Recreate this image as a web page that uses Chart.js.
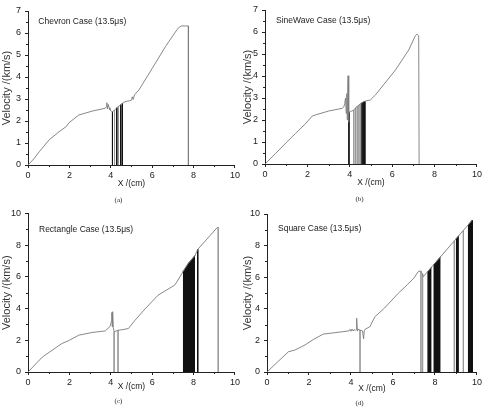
<!DOCTYPE html>
<html><head><meta charset="utf-8">
<script src="https://cdn.jsdelivr.net/npm/chart.js@4/dist/chart.umd.min.js"></script>
<style>
html,body{margin:0;padding:0;background:#fff;}
#wrap{position:relative;width:484px;height:408px;overflow:hidden;}
canvas{position:absolute;}
</style></head><body>
<div id="wrap">
<canvas id="ca" width="242" height="204" style="left:0;top:0"></canvas>
<canvas id="cb" width="242" height="204" style="left:242px;top:0"></canvas>
<canvas id="cc" width="242" height="204" style="left:0;top:204px"></canvas>
<canvas id="cd" width="242" height="204" style="left:242px;top:204px"></canvas>
</div>
<script>
// ---------- tick labels ----------
const xTicks = [0, 2, 4, 6, 8, 10];
const yTicksTop = [0, 1, 2, 3, 4, 5, 6, 7];
const yTicksBottom = [0, 2, 4, 6, 8, 10];
const panelTitles = ['Chevron Case (13.5\u03bcs)', 'SineWave Case (13.5\u03bcs)', 'Rectangle Case (13.5\u03bcs)', 'Square Case (13.5\u03bcs)'];
const captions = ['(a)', '(b)', '(c)', '(d)'];
const xTitle = 'X /(cm)';
const yTitle = 'Velocity /(km/s)';

// ---------- (a) Chevron ----------
const aX = [0, 0.3, 0.54, 1.02, 1.5, 1.85, 1.9, 1.98, 2.45, 3.1,
            3.73, 3.78, 3.81, 3.84, 3.88, 3.92, 3.96, 4.02, 4.08, 4.18,
            4.29, 4.37, 4.48, 4.56, 4.69, 4.9, 5.0, 5.04, 5.08, 5.15,
            5.36, 6.0, 6.64, 7.19, 7.32, 7.43, 7.75, 7.75];
const aY = [0, 0.3, 0.6, 1.14, 1.51, 1.75, 1.82, 1.92, 2.27, 2.45,
            2.58, 2.65, 2.83, 2.55, 2.75, 2.6, 2.5, 2.45, 2.42, 2.5,
            2.6, 2.66, 2.74, 2.8, 2.88, 2.92, 2.95, 3.1, 2.98, 3.2,
            3.41, 4.39, 5.38, 6.14, 6.28, 6.32, 6.32, 0];
const aDarkDropX = [4.08, 4.29, 4.48, 4.56];
const aDarkDropY = [2.42, 2.6, 2.74, 2.8];
const aLightDropX = [4.18, 4.37];
const aLightDropY = [2.5, 2.66];

// ---------- (b) SineWave ----------
const bX = [0, 0.5, 1.0, 1.44, 1.9, 2.23, 2.38, 3.01, 3.64, 3.72,
            3.76, 3.8, 3.83, 3.86, 3.88, 3.9, 3.92, 3.94, 3.96, 4.03,
            4.19, 4.27, 4.35, 4.43, 4.5, 4.58, 4.66, 4.71, 4.74, 4.97,
            5.21, 6.15, 6.78, 7.09, 7.17, 7.25, 7.27];
const bY = [0, 0.48, 0.97, 1.39, 1.82, 2.18, 2.23, 2.41, 2.53, 2.6,
            2.75, 3.0, 2.3, 3.2, 2.0, 3.4, 4.01, 1.9, 2.35, 2.38,
            2.45, 2.55, 2.62, 2.68, 2.74, 2.79, 2.83, 2.85, 2.86, 2.91,
            3.14, 4.27, 5.18, 5.83, 5.9, 5.83, 0];
const bDarkDropX = [3.96, 4.58, 4.66, 4.71];
const bDarkDropY = [2.35, 2.79, 2.83, 2.85];
const bLightDropX = [4.19, 4.27, 4.35, 4.43, 4.5];
const bLightDropY = [2.45, 2.55, 2.62, 2.68, 2.74];

// ---------- (c) Rectangle ----------
const cX = [0, 0.7, 1.63, 2.0, 2.45, 3.09, 3.73, 3.97, 4.03, 4.05,
            4.07, 4.08, 4.095, 4.1, 4.12, 4.16, 4.34, 4.53, 4.85, 5.17,
            5.6, 6.28, 6.76, 7.08, 7.25, 7.48, 7.75, 8.07, 8.2, 9.15, 9.19];
const cY = [0, 0.95, 1.79, 2.0, 2.32, 2.49, 2.59, 2.88, 3.2, 3.75,
            2.85, 3.8, 2.9, 3.6, 2.8, 2.53, 2.63, 2.66, 2.74, 3.26,
            3.9, 4.84, 5.22, 5.47, 5.8, 6.31, 6.85, 7.35, 7.73, 9.12, 9.12];
const cDarkDropX = [8.2];
const cDarkDropY = [7.73];
const cLightDropX = [4.16, 4.35, 9.19];
const cLightDropY = [2.53, 2.63, 9.12];
const cBandX = [[7.48, 7.75, 8.07]];
const cBandY = [[6.31, 6.85, 7.35]];

// ---------- (d) Square ----------
const dX = [0, 0.5, 1.02, 1.33, 1.81, 2.2, 2.68, 3.24, 3.6, 3.9,
            3.95, 4.0, 4.05, 4.1, 4.15, 4.2, 4.25, 4.27, 4.3, 4.32,
            4.43, 4.55, 4.6, 4.63, 4.67, 4.9, 5.14, 5.6, 6.25, 6.7,
            7.0, 7.2, 7.3, 7.33, 7.36, 7.41, 7.44, 7.63, 7.84, 7.92,
            8.27, 8.92, 9.14, 9.35, 9.56, 9.78];
const dY = [0, 0.63, 1.28, 1.39, 1.71, 2.05, 2.4, 2.49, 2.55, 2.6,
            2.7, 2.58, 2.72, 2.6, 2.68, 2.62, 2.7, 3.4, 2.6, 2.72,
            2.65, 2.6, 2.1, 2.6, 2.7, 2.87, 3.5, 4.05, 4.98, 5.55,
            5.95, 6.35, 6.4, 6.35, 6.3, 6.2, 6.03, 6.32, 6.64, 6.77,
            7.3, 8.3, 8.64, 8.96, 9.28, 9.62];
const dDarkDropX = [9.78];
const dDarkDropY = [9.62];
const dLightDropX = [4.43, 7.33, 7.41, 8.92, 9.35];
const dLightDropY = [2.65, 6.35, 6.2, 8.3, 8.96];
const dBandX = [[7.63, 7.84], [7.92, 8.27], [8.99, 9.14], [9.56, 9.78]];
const dBandY = [[6.32, 6.64], [6.77, 7.3], [8.41, 8.64], [9.28, 9.62]];

// ---------- helpers ----------
function pts(xs, ys) { return xs.map((x, i) => ({x: x, y: ys[i]})); }
function drops(xs, tops) {
  const out = [];
  xs.forEach((x, i) => { out.push({x: x, y: tops[i]}, {x: x, y: 0}, {x: x, y: null}); });
  return out;
}

const minorTicks = {
  id: 'minorTicks',
  afterDraw(chart) {
    const ctx = chart.ctx;
    const xs = chart.scales.x, ys = chart.scales.y;
    const ca = chart.chartArea;
    ctx.save();
    ctx.strokeStyle = '#222';
    ctx.lineWidth = 1;
    ctx.beginPath();
    for (let i = 0; i < xs.ticks.length - 1; i++) {
      const m = (xs.ticks[i].value + xs.ticks[i + 1].value) / 2;
      const p = Math.round(xs.getPixelForValue(m)) + 0.5;
      ctx.moveTo(p, ca.bottom); ctx.lineTo(p, ca.bottom + 2);
    }
    for (let i = 0; i < ys.ticks.length - 1; i++) {
      const m = (ys.ticks[i].value + ys.ticks[i + 1].value) / 2;
      const p = Math.round(ys.getPixelForValue(m)) + 0.5;
      ctx.moveTo(ca.left - 2, p); ctx.lineTo(ca.left, p);
    }
    ctx.stroke();
    ctx.restore();
  }
};

const panelLabel = {
  id: 'panelLabel',
  afterDraw(chart, args, opts) {
    const ctx = chart.ctx, ca = chart.chartArea;
    ctx.save();
    ctx.fillStyle = '#222';
    ctx.font = '8.5px "Liberation Sans", Arial, sans-serif';
    ctx.textBaseline = 'middle';
    ctx.textAlign = 'left';
    ctx.fillText(opts.text, ca.left + opts.dx, ca.top + opts.dy);
    ctx.restore();
  }
};

function makeChart(id, idx, curveX, curveY, darkX, darkY, lightX, lightY, bandX, bandY, yTicks, lay) {
  const datasets = [
    {data: pts(curveX, curveY), borderColor: '#7a7a7a', borderWidth: 0.9, pointRadius: 0, tension: 0, fill: false},
    {data: drops(lightX, lightY), borderColor: '#9a9a9a', borderWidth: 0.9, pointRadius: 0, tension: 0, spanGaps: false, fill: false},
    {data: drops(darkX, darkY), borderColor: '#111', borderWidth: 1, pointRadius: 0, tension: 0, spanGaps: false, fill: false}
  ];
  bandX.forEach((bx, i) => {
    datasets.push({data: pts(bx, bandY[i]), borderColor: '#111', borderWidth: 0.8, backgroundColor: '#111', pointRadius: 0, tension: 0, fill: 'origin'});
  });
  const capH = 8.4 + lay.capPad;
  const xH = 204 - capH - lay.B;
  const font = 'Liberation Sans';
  return new Chart(document.getElementById(id), {
    type: 'line',
    data: {datasets: datasets},
    options: {
      responsive: false, animation: false, devicePixelRatio: 1,
      layout: {padding: {left: 0, right: 242 - lay.R, top: lay.T, bottom: 0}},
      plugins: {
        legend: {display: false}, tooltip: {enabled: false},
        title: {display: true, text: captions[idx], position: 'bottom', color: '#222',
                font: {family: 'Liberation Serif', size: 7, weight: 'normal', lineHeight: 1.2}, padding: {top: 0, bottom: lay.capPad}},
        panelLabel: {text: panelTitles[idx], dx: lay.annX, dy: lay.annY}
      },
      scales: {
        x: {
          type: 'linear', min: 0, max: 10,
          afterBuildTicks: s => { s.ticks = xTicks.map(v => ({value: v})); },
          afterFit: s => { s.height = xH; },
          grid: {display: true, drawOnChartArea: false, drawTicks: true, tickLength: 3, color: '#222'},
          border: {display: true, color: '#222', width: 1},
          ticks: {font: {family: font, size: 9}, color: '#222', padding: 2, maxRotation: 0, autoSkip: false},
          title: {display: true, text: xTitle, color: '#222', font: {family: font, size: 8.5, lineHeight: 1.2},
                  padding: {top: 0, bottom: lay.xtPad}}
        },
        y: {
          type: 'linear', min: 0, max: yTicks[yTicks.length - 1],
          afterBuildTicks: s => { s.ticks = yTicks.map(v => ({value: v})); },
          afterFit: s => { s.width = lay.L; },
          grid: {display: true, drawOnChartArea: false, drawTicks: true, tickLength: 3, color: '#222'},
          border: {display: true, color: '#222', width: 1},
          ticks: {font: {family: font, size: 9}, color: '#222', padding: 4, autoSkip: false},
          title: {display: true, text: yTitle, color: '#333', font: {family: font, size: 11, lineHeight: 1},
                  padding: {top: lay.ytPad, bottom: 0}}
        }
      }
    },
    plugins: [minorTicks, panelLabel]
  });
}

makeChart('ca', 0, aX, aY, aDarkDropX, aDarkDropY, aLightDropX, aLightDropY, [], [], yTicksTop,
  {L: 28, R: 237, T: 11, B: 165, capPad: 0, xtPad: 6.5, ytPad: 1.5, annX: 10.3, annY: 10.5});
makeChart('cb', 1, bX, bY, bDarkDropX, bDarkDropY, bLightDropX, bLightDropY, [], [], yTicksTop,
  {L: 23, R: 235, T: 10, B: 164, capPad: 0.3, xtPad: 8, ytPad: 0, annX: 11, annY: 10.5});
makeChart('cc', 2, cX, cY, cDarkDropX, cDarkDropY, cLightDropX, cLightDropY, cBandX, cBandY, yTicksBottom,
  {L: 28, R: 237, T: 9, B: 168, capPad: 2.3, xtPad: 5.7, ytPad: 1.7, annX: 11, annY: 16});
makeChart('cd', 3, dX, dY, dDarkDropX, dDarkDropY, dLightDropX, dLightDropY, dBandX, dBandY, yTicksBottom,
  {L: 25, R: 235, T: 10, B: 168, capPad: 1, xtPad: 4.8, ytPad: 0.3, annX: 11, annY: 15});
</script>
</body></html>
